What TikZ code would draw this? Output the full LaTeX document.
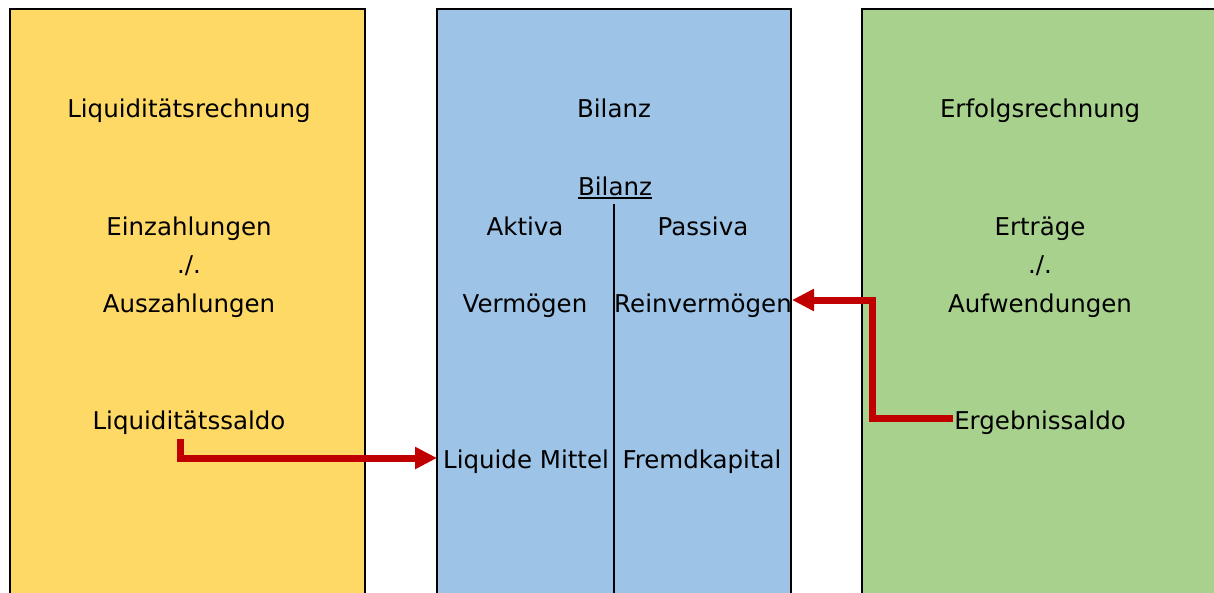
\documentclass[tikz,border=0pt]{standalone}
\usepackage{fontspec}
\setmainfont{DejaVu Sans}
\usetikzlibrary{arrows.meta}
\definecolor{cyellow}{HTML}{FFD966}
\definecolor{cblue}{HTML}{9DC3E6}
\definecolor{cgreen}{HTML}{A9D18E}
\definecolor{cred}{HTML}{C00000}
\tikzset{
  col/.style={draw=black, line width=2.5pt},
  lbl/.style={font=\fontsize{24.5}{28}\selectfont, text=black, inner sep=0pt, anchor=base},
  redarrow/.style={draw=cred, line width=7pt, -{Triangle[length=22pt,width=21pt]}},
}
\begin{document}
\begin{tikzpicture}[x=1pt,y=-1pt]
\useasboundingbox (0,0) rectangle (1214,592);
\clip (0,0) rectangle (1214,592);
\path[col, fill=cyellow] (10,9) rectangle (365,620);
\path[col, fill=cblue] (437,9) rectangle (791,620);
\path[col, fill=cgreen] (862,9) rectangle (1240,620);

% left column
\node[lbl] (lt) at (189,117) {Liquiditätsrechnung};
\node[lbl] (le) at (189,235) {Einzahlungen};
\node[lbl] (lm1) at (189,273) {./.};
\node[lbl] (la) at (189,312) {Auszahlungen};
\node[lbl] (ls) at (189,429) {Liquiditätssaldo};

% middle column
\node[lbl] (bt) at (614,117) {Bilanz};
\node[lbl] (bu) at (615,195) {Bilanz};
\draw[line width=1.5pt] (bu.base west) ++(0,3) -- ([yshift=-3pt]bu.base east);
\coordinate (vtop) at (614,204);
\coordinate (vbot) at (614,600);
\draw[line width=1.6pt] (vtop) -- (vbot);
\node[lbl] (ak) at (525,235) {Aktiva};
\node[lbl] (pa) at (703,235) {Passiva};
\node[lbl] (ve) at (525,312) {Vermögen};
\node[lbl] (rv) at (703,312) {Reinvermögen};
\node[lbl] (lq) at (526,468) {Liquide Mittel};
\node[lbl] (fk) at (702,468) {Fremdkapital};

% right column
\node[lbl] (rt) at (1040,117) {Erfolgsrechnung};
\node[lbl] (er) at (1040,235) {Erträge};
\node[lbl] (rm1) at (1040,273) {./.};
\node[lbl] (au) at (1040,312) {Aufwendungen};
\node[lbl] (es) at (1040,429) {Ergebnissaldo};

% arrows
\coordinate (a1s) at (180.5,439);
\coordinate (a1t) at (437,458);
\draw[redarrow] (a1s) |- (a1t);
\coordinate (a2s) at (953,418.5);
\coordinate (a2m) at (872,418.5);
\coordinate (a2t) at (792,300);
\draw[redarrow] (a2s) -- (a2m) |- (a2t);
\end{tikzpicture}
\end{document}
